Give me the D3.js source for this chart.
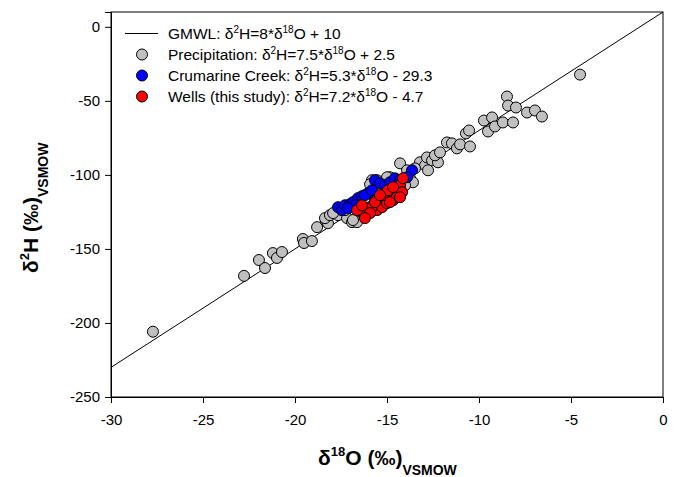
<!DOCTYPE html>
<html><head><meta charset="utf-8">
<script src="https://cdn.jsdelivr.net/npm/d3@7"></script>
<style>body{margin:0;background:#fff}svg{font-family:Arial,"Liberation Sans",sans-serif}</style>
</head><body><svg id="c" width="675" height="477"></svg>
<script>
const xTicks = [-30,-25,-20,-15,-10,-5,0];
const yTicks = [0,-50,-100,-150,-200,-250];
const gmwl = [[-30,-230],[0,10]];
const precipX = [-27.72,-22.77,-21.96,-21.63,-21.20,-20.98,-20.71,-19.57,-19.51,-19.08,-18.80,-18.32,-18.21,-18.37,-18.10,-17.66,-17.17,-16.90,-17.28,-16.63,-15.82,-15.92,-14.84,-14.29,-13.75,-13.59,-13.21,-12.93,-12.83,-12.55,-12.23,-12.77,-13.48,-12.39,-12.12,-11.74,-11.47,-11.20,-11.03,-10.49,-10.71,-10.54,-9.51,-9.73,-9.29,-9.13,-8.70,-8.15,-8.48,-8.42,-7.99,-7.39,-6.96,-6.58,-4.51,-15.54,-15.00,-13.91,-14.02,-14.57,-15.11,-15.65,-16.36,-17.93,-16.85];
const precipY = [-205.9,-168.2,-157.5,-162.9,-152.8,-156.1,-152.1,-143.3,-146.0,-144.7,-135.3,-131.2,-132.6,-129.2,-127.2,-127.2,-129.2,-131.9,-123.8,-131.9,-103.6,-106.3,-101.6,-92.2,-102.3,-105.0,-91.5,-93.5,-88.2,-90.2,-91.5,-96.9,-95.6,-86.8,-84.8,-78.1,-78.7,-82.1,-79.4,-80.8,-72.0,-70.0,-70.7,-63.3,-61.2,-67.3,-64.6,-64.6,-47.1,-53.2,-54.5,-57.9,-56.5,-60.6,-32.3,-103.6,-101.6,-96.9,-107.0,-111.7,-115.1,-117.1,-125.2,-125.8,-130.5];
const creekX = [-17.66,-17.45,-17.28,-17.01,-16.85,-16.58,-16.36,-16.03,-15.65,-15.38,-15.11,-14.84,-14.57,-14.29,-13.64,-13.91,-16.20,-16.74,-15.82,-17.12];
const creekY = [-121.8,-123.8,-120.5,-119.8,-118.4,-115.7,-114.4,-112.4,-103.6,-105.7,-107.0,-105.0,-102.3,-103.6,-96.9,-101.6,-113.7,-120.5,-110.4,-122.5];
const wellsX = [-16.47,-16.20,-15.92,-15.54,-15.38,-15.11,-14.95,-14.73,-14.57,-14.40,-14.29,-14.13,-15.54,-15.82,-15.27,-15.00,-14.67,-14.46,-14.18,-15.22,-14.95,-14.67,-14.84,-15.65,-15.38,-14.29,-16.63,-16.36,-15.92,-16.20];
const wellsY = [-123.8,-125.2,-122.5,-120.5,-118.4,-117.1,-115.1,-113.7,-111.7,-109.0,-107.0,-102.3,-123.8,-121.8,-121.8,-119.1,-117.1,-115.1,-111.7,-113.7,-110.4,-108.3,-118.4,-118.4,-113.7,-115.1,-123.8,-120.5,-125.8,-129.2];

const svg = d3.select("#c");
const L=111,R=663,T=12,B=397;
const x = d3.scaleLinear().domain([-30,0]).range([L,R]);
const y = d3.scaleLinear().domain([-250,10]).range([B,T]);
const fmt = d => String(d);

svg.append("rect").attr("x",L).attr("y",T).attr("width",R-L).attr("height",B-T)
  .attr("fill","none").attr("stroke","#000").attr("stroke-width",1);

const xa = svg.append("g").attr("transform",`translate(0,${B})`)
  .call(d3.axisBottom(x).tickValues(xTicks).tickSize(6).tickPadding(11).tickFormat(fmt));
const ya = svg.append("g").attr("transform",`translate(${L},0)`)
  .call(d3.axisLeft(y).tickValues(yTicks).tickSize(6).tickPadding(5).tickFormat(fmt));
[xa,ya].forEach(a=>{a.select(".domain").attr("stroke","#000");
  a.selectAll("text").attr("font-size",15).attr("fill","#000").attr("font-family","Arial, 'Liberation Sans', sans-serif");
  a.selectAll("line").attr("stroke","#000");});

svg.append("clipPath").attr("id","cp").append("rect").attr("x",L).attr("y",T).attr("width",R-L).attr("height",B-T);
const plot = svg.append("g").attr("clip-path","url(#cp)");
plot.append("path").datum(gmwl).attr("d",d3.line().x(d=>x(d[0])).y(d=>y(d[1])))
  .attr("stroke","#000").attr("stroke-width",1).attr("fill","none");

function pts(xs,ys,col){
  plot.append("g").selectAll("circle").data(xs.map((v,i)=>[v,ys[i]])).join("circle")
    .attr("cx",d=>x(d[0])).attr("cy",d=>y(d[1])).attr("r",5.5)
    .attr("fill",col).attr("stroke","#000").attr("stroke-width",1);
}
pts(precipX,precipY,"#c0c0c0");
pts(creekX,creekY,"#0000ff");
pts(wellsX,wellsY,"#ff0000");

const leg = svg.append("g").attr("font-size",15.5);
const rows = [
  {t:"GMWL: ", a:"=8*", b:" + 10", type:"line"},
  {t:"Precipitation: ", a:"=7.5*", b:" + 2.5", col:"#c0c0c0"},
  {t:"Crumarine Creek: ", a:"=5.3*", b:" - 29.3", col:"#0000ff"},
  {t:"Wells (this study): ", a:"=7.2*", b:" - 4.7", col:"#ff0000"}];
rows.forEach((r,i)=>{
  const cy = 33.5 + i*21;
  if(r.type==="line") leg.append("line").attr("x1",125).attr("x2",158).attr("y1",cy).attr("y2",cy).attr("stroke","#000");
  else leg.append("circle").attr("cx",142).attr("cy",cy).attr("r",5.5).attr("fill",r.col).attr("stroke","#000");
  const tx = leg.append("text").attr("x",168).attr("y",cy+5.5).attr("fill","#000");
  tx.append("tspan").text(r.t+"δ");
  tx.append("tspan").attr("font-size",10).attr("dy",-6).text("2");
  tx.append("tspan").attr("dy",6).text("H"+r.a+"δ");
  tx.append("tspan").attr("font-size",10).attr("dy",-6).text("18");
  tx.append("tspan").attr("dy",6).text("O"+r.b);
});

const xt = svg.append("text").attr("x",318).attr("y",465).attr("font-size",21).attr("font-weight","bold").attr("fill","#000");
xt.append("tspan").text("δ");
xt.append("tspan").attr("font-size",13).attr("dy",-9).text("18");
xt.append("tspan").attr("dy",9).text("O (‰)");
xt.append("tspan").attr("font-size",14).attr("dy",10).text("VSMOW");

const yt = svg.append("text").attr("transform","translate(38,273) rotate(-90)").attr("font-size",21).attr("font-weight","bold").attr("fill","#000");
yt.append("tspan").text("δ");
yt.append("tspan").attr("font-size",13).attr("dy",-9).text("2");
yt.append("tspan").attr("dy",9).text("H (‰)");
yt.append("tspan").attr("font-size",14).attr("dy",10).text("VSMOW");
</script></body></html>
